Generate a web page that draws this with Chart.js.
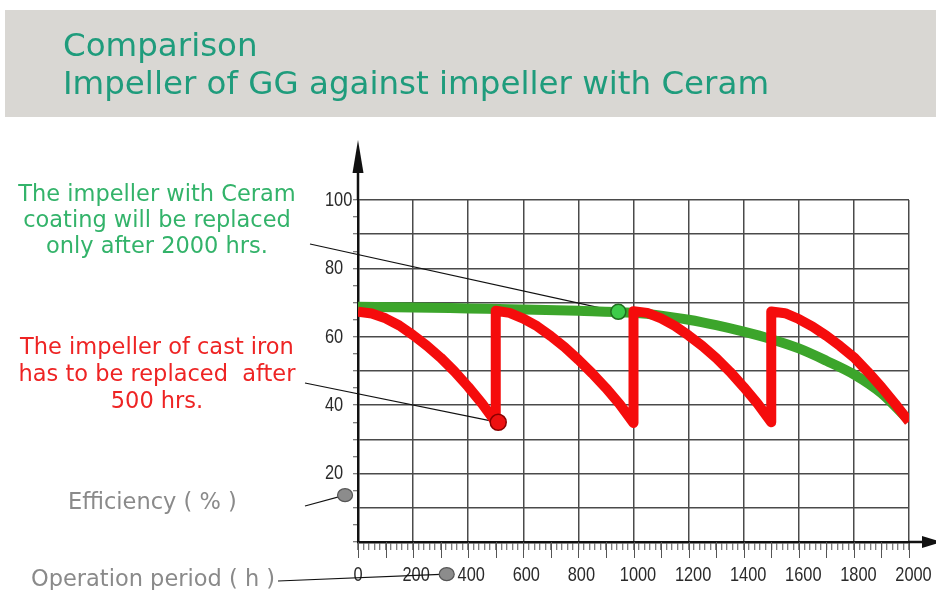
<!DOCTYPE html>
<html>
<head>
<meta charset="utf-8">
<script src="https://cdn.jsdelivr.net/npm/chart.js@4"></script>
<style>
  html, body { margin: 0; padding: 0; background: #fff; }
  canvas { display: block; }
</style>
</head>
<body>
<canvas id="chart" width="936" height="590"></canvas>
<script>
// ── Data ──────────────────────────────────────────
const ceramHours = [0, 200, 400, 600, 800, 1000, 1100, 1200, 1300, 1400, 1500, 1600, 1700, 1800, 1900, 2000];
const ceramEff   = [68.8, 68.6, 68.3, 68.0, 67.6, 67.0, 66.2, 65.0, 63.4, 61.5, 59.3, 56.6, 53.0, 49.0, 43.5, 35.5];

const ironHours = [
  0, 50, 100, 150, 200, 250, 300, 350, 400, 450, 500,
  500, 550, 600, 650, 700, 750, 800, 850, 900, 950, 1000,
  1000, 1050, 1100, 1150, 1200, 1250, 1300, 1350, 1400, 1450, 1500,
  1500, 1550, 1600, 1650, 1700, 1750, 1800, 1850, 1900, 1950, 2000,
];
const ironEff = [
  67.3, 66.8, 65.4, 63.3, 60.5, 57.4, 53.9, 49.9, 45.4, 40.5, 35.0,
  67.6, 67.0, 65.3, 63.1, 60.2, 57.0, 53.3, 49.3, 45.0, 40.3, 34.8,
  67.5, 67.0, 65.4, 63.2, 60.4, 57.3, 53.8, 49.8, 45.3, 40.5, 35.0,
  67.4, 66.9, 65.2, 63.0, 60.3, 57.3, 54.0, 49.8, 45.3, 40.4, 35.2,
];

const ceramMarker     = [945, 67.3];
const ironMarker      = [509, 35.0];
const effAxisMarker   = [-47, 13.7];
const hoursAxisMarker = [322, -9.4];

const titleLines = ['Comparison', 'Impeller of GG against impeller with Ceram'];
const ceramNote  = ['The impeller with Ceram', 'coating will be replaced', 'only after 2000 hrs.'];
const ironNote   = ['The impeller of cast iron', 'has to be replaced  after', '500 hrs.'];
const yAxisName  = 'Efficiency ( % )';
const xAxisName  = 'Operation period ( h )';

const xMax = 2000, yMax = 100;
const xLabelStep = 200, yLabelStep = 20;

const TICK_FONT = '21px "Liberation Sans"';
const NARROW = 0.78; // tick digits are condensed in the original

// draw condensed text (horizontal squeeze only)
function narrowText(ctx, text, x, y, align) {
  ctx.save();
  ctx.translate(x, y);
  ctx.scale(NARROW, 1);
  ctx.textAlign = align;
  ctx.fillText(text, 0, 0);
  ctx.restore();
}

// ── Decorations (band, notes, leaders, arrows) ────
const decor = {
  id: 'decor',
  beforeDraw(chart) {
    const ctx = chart.ctx;
    ctx.save();
    ctx.fillStyle = '#fff';
    ctx.fillRect(0, 0, chart.width, chart.height);
    ctx.fillStyle = '#d9d7d3';
    ctx.fillRect(5, 10, chart.width - 5, 107);

    ctx.textBaseline = 'middle';
    ctx.fillStyle = '#1f9c7c';
    ctx.font = '32.5px "DejaVu Sans"';
    ctx.fillText(titleLines[0], 63, 48);
    ctx.fillText(titleLines[1], 63, 86);

    ctx.textAlign = 'center';
    ctx.font = '22.5px "DejaVu Sans"';
    ctx.fillStyle = '#33b36a';
    ceramNote.forEach((t, i) => ctx.fillText(t, 157, 195 + i * 26));
    ctx.fillStyle = '#ee2424';
    ironNote.forEach((t, i) => ctx.fillText(t, 157, 348 + i * 27));

    ctx.textAlign = 'left';
    ctx.fillStyle = '#8a8a8a';
    ctx.fillText(yAxisName, 68, 503);
    ctx.fillText(xAxisName, 31, 580);
    ctx.restore();
  },
  beforeDatasetsDraw(chart) {
    const { ctx, chartArea: a, scales: { x, y } } = chart;
    ctx.save();

    // longer ticks every 100 h
    ctx.strokeStyle = '#555';
    ctx.lineWidth = 1;
    x.ticks.forEach(t => {
      if (t.value % 100 !== 0) return;
      const px = Math.round(x.getPixelForValue(t.value)) + 0.5;
      ctx.beginPath();
      ctx.moveTo(px, a.bottom);
      ctx.lineTo(px, a.bottom + 16);
      ctx.stroke();
    });

    // tick labels from the scales
    ctx.fillStyle = '#2a2a2a';
    ctx.font = TICK_FONT;
    ctx.textBaseline = 'middle';
    x.ticks.forEach(t => {
      if (t.value % xLabelStep !== 0) return;
      const s = String(t.value);
      narrowText(ctx, s, x.getPixelForValue(t.value) + 1.5 * (s.length - 1), a.bottom + 33, 'center');
    });
    y.ticks.forEach(t => {
      if (t.value <= 0 || t.value % yLabelStep !== 0) return;
      narrowText(ctx, String(t.value), 325, y.getPixelForValue(t.value), 'left');
    });

    // axis arrows
    ctx.strokeStyle = '#111';
    ctx.fillStyle = '#111';
    ctx.lineWidth = 2.5;
    ctx.beginPath();
    ctx.moveTo(a.left, a.top);
    ctx.lineTo(a.left, 170);
    ctx.moveTo(a.right, a.bottom);
    ctx.lineTo(924, a.bottom);
    ctx.stroke();
    ctx.beginPath();
    ctx.moveTo(a.left, 140);
    ctx.lineTo(a.left - 5.5, 173);
    ctx.lineTo(a.left + 5.5, 173);
    ctx.closePath();
    ctx.fill();
    ctx.beginPath();
    ctx.moveTo(942, a.bottom);
    ctx.lineTo(922, a.bottom - 6);
    ctx.lineTo(922, a.bottom + 6);
    ctx.closePath();
    ctx.fill();

    // leader lines from the notes to the markers
    const leaders = [
      [310, 244, ceramMarker],
      [305, 383, ironMarker],
      [305, 506, effAxisMarker],
      [278, 581, hoursAxisMarker],
    ];
    ctx.lineWidth = 1.2;
    leaders.forEach(([sx, sy, m]) => {
      ctx.beginPath();
      ctx.moveTo(sx, sy);
      ctx.lineTo(x.getPixelForValue(m[0]), y.getPixelForValue(m[1]));
      ctx.stroke();
    });
    ctx.restore();
  },
  afterDatasetsDraw(chart) {
    // axis-name markers sit outside the plot area, so Chart.js skips them
    const { ctx, scales: { x, y } } = chart;
    ctx.save();
    ctx.fillStyle = '#8c8c8c';
    ctx.strokeStyle = '#555';
    ctx.lineWidth = 1.2;
    [effAxisMarker, hoursAxisMarker].forEach(m => {
      ctx.beginPath();
      ctx.ellipse(x.getPixelForValue(m[0]), y.getPixelForValue(m[1]), 7.5, 6.5, 0, 0, Math.PI * 2);
      ctx.fill();
      ctx.stroke();
    });
    ctx.restore();
  }
};

const toPoints = (xs, ys) => xs.map((v, i) => ({ x: v, y: ys[i] }));
const marker = (pt, fill, border, r) => ({
  data: [{ x: pt[0], y: pt[1] }],
  showLine: false,
  pointRadius: r,
  pointBackgroundColor: fill,
  pointBorderColor: border,
  pointBorderWidth: 1.5,
  clip: false,
});

new Chart(document.getElementById('chart'), {
  type: 'line',
  data: {
    datasets: [
      marker(ceramMarker, '#3dcc4a', '#1f6e1f', 7.5),
      marker(ironMarker, '#ee1111', '#8a0000', 8),
      {
        label: 'Cast iron',
        data: toPoints(ironHours, ironEff),
        borderColor: '#f50c0c',
        borderWidth: 10,
        borderJoinStyle: 'round',
        pointRadius: 0,
        tension: 0,
      },
      {
        label: 'Ceram',
        data: toPoints(ceramHours, ceramEff),
        borderColor: '#3ca52b',
        borderWidth: 10,
        pointRadius: 0,
        cubicInterpolationMode: 'monotone',
      },
    ]
  },
  options: {
    responsive: false,
    animation: false,
    devicePixelRatio: 1,
    layout: { padding: { left: 325, top: 200, right: 27, bottom: 0 } },
    plugins: { legend: { display: false }, tooltip: { enabled: false } },
    scales: {
      x: {
        type: 'linear', min: 0, max: xMax,
        afterFit: s => { s.height = 48; s.paddingLeft = 0; s.paddingRight = 0; },
        ticks: { stepSize: 20, autoSkip: false, maxRotation: 0, display: false },
        grid: {
          color: c => (c.tick && c.tick.value % xLabelStep === 0 ? '#4a4a4a' : 'rgba(0,0,0,0)'),
          lineWidth: 1.5, tickColor: '#555', tickLength: 8, tickWidth: 1,
        },
        border: { color: '#111', width: 2.5 },
      },
      y: {
        min: 0, max: yMax,
        afterFit: s => { s.width = 33; s.paddingTop = 0; s.paddingBottom = 0; },
        ticks: { stepSize: 5, autoSkip: false, display: false },
        grid: {
          color: c => (c.tick && c.tick.value % 10 === 0 ? '#4a4a4a' : 'rgba(0,0,0,0)'),
          lineWidth: 1.5, tickColor: '#555', tickLength: 5, tickWidth: 1,
        },
        border: { color: '#111', width: 2.5 },
      }
    }
  },
  plugins: [decor]
});
</script>
</body>
</html>
